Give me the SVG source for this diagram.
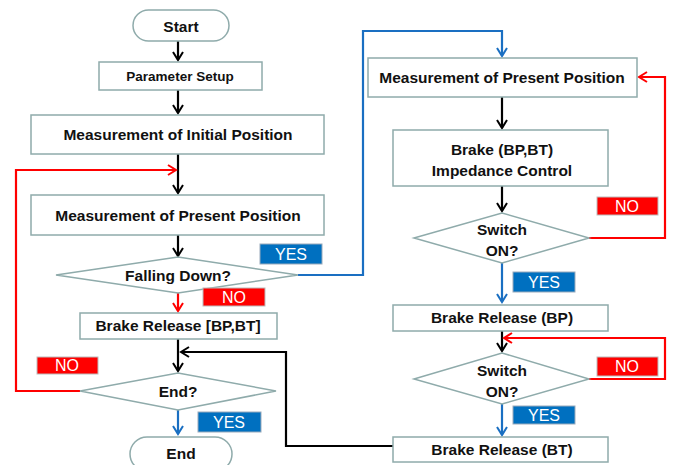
<svg xmlns="http://www.w3.org/2000/svg" width="677" height="465" viewBox="0 0 677 465">
<defs>
<style>
.n{fill:#fff;stroke:#8fabab;stroke-width:1.5}
.t{font-family:"Liberation Sans",Arial,sans-serif;font-weight:bold;font-size:15.5px;fill:#111;text-anchor:middle}
.s{font-size:13.5px}
.lb{font-family:"Liberation Sans",Arial,sans-serif;font-size:16px;fill:#fff;text-anchor:middle}
.yes{fill:#0070c0;stroke:#9ab;stroke-width:1}
.no{fill:#ff0000;stroke:#bbb;stroke-width:1}
.k{fill:none;stroke:#000;stroke-width:2.2}
.b{fill:none;stroke:#1a6fc2;stroke-width:2.2}
.r{fill:none;stroke:#ff0000;stroke-width:2.2}
</style>
<marker id="ak" viewBox="0 0 12 12" refX="10" refY="6" markerWidth="12" markerHeight="12" markerUnits="userSpaceOnUse" orient="auto"><path d="M2,1 L10,6 L2,11" fill="none" stroke="#000" stroke-width="2"/></marker>
<marker id="ab" viewBox="0 0 12 12" refX="10" refY="6" markerWidth="12" markerHeight="12" markerUnits="userSpaceOnUse" orient="auto"><path d="M2,1 L10,6 L2,11" fill="none" stroke="#1a6fc2" stroke-width="2"/></marker>
<marker id="ar" viewBox="0 0 12 12" refX="10" refY="6" markerWidth="12" markerHeight="12" markerUnits="userSpaceOnUse" orient="auto"><path d="M2,1 L10,6 L2,11" fill="none" stroke="#ff0000" stroke-width="2"/></marker>
</defs>
<rect width="677" height="465" fill="#fff"/>
<g id="connectors">
<path class="k" d="M178,41 V60" marker-end="url(#ak)"/>
<path class="k" d="M178,90 V113" marker-end="url(#ak)"/>
<path class="k" d="M178,154 V193" marker-end="url(#ak)"/>
<path class="r" d="M80,391 H16 V170 H176" marker-end="url(#ar)"/>
<path class="k" d="M178,235 V256" marker-end="url(#ak)"/>
<path class="b" d="M298,275 H363 V31 H502 V56" marker-end="url(#ab)"/>
<path class="r" d="M178,292 V311" marker-end="url(#ar)"/>
<path class="k" d="M178,339 V371" marker-end="url(#ak)"/>
<path class="k" d="M393,446 H286 V352 H181" marker-end="url(#ak)"/>
<path class="b" d="M178,410 V434" marker-end="url(#ab)"/>
<path class="k" d="M502,97 V128" marker-end="url(#ak)"/>
<path class="k" d="M502,186 V211" marker-end="url(#ak)"/>
<path class="r" d="M589,238 H665 V77 H639" marker-end="url(#ar)"/>
<path class="b" d="M502,263 V302" marker-end="url(#ab)"/>
<path class="k" d="M502,331 V351" marker-end="url(#ak)"/>
<path class="r" d="M589,379 H665 V338 H504" marker-end="url(#ar)"/>
<path class="b" d="M502,404 V435" marker-end="url(#ab)"/>
</g>
<g id="start"><rect class="n" x="133" y="10" width="96" height="31" rx="15.5"/><text class="t" x="181" y="32">Start</text></g>
<g id="param"><rect class="n" x="99" y="62" width="163" height="28"/><text class="t s" x="180" y="81">Parameter Setup</text></g>
<g id="initpos"><rect class="n" x="31" y="115" width="293" height="39"/><text class="t" x="178" y="140">Measurement of Initial Position</text></g>
<g id="prespos1"><rect class="n" x="31" y="195" width="293" height="40"/><text class="t" x="178" y="221">Measurement of Present Position</text></g>
<g id="falling"><path class="n" d="M56,275 L178,257 L298,275 L178,293 Z"/><text class="t" x="178" y="281">Falling Down?</text></g>
<g id="yes1"><rect class="yes" x="260" y="244" width="62" height="20"/><text class="lb" x="291" y="260">YES</text></g>
<g id="no1"><rect class="no" x="203" y="288" width="62" height="18"/><text class="lb" x="234" y="303">NO</text></g>
<g id="release1"><rect class="n" x="80" y="313" width="197" height="26"/><text class="t" x="178" y="331">Brake Release [BP,BT]</text></g>
<g id="no2"><rect class="no" x="37" y="357" width="61" height="17"/><text class="lb" x="67" y="371">NO</text></g>
<g id="endq"><path class="n" d="M80,391 L178,373 L276,391 L178,410 Z"/><text class="t" x="178" y="397">End?</text></g>
<g id="yes2"><rect class="yes" x="198" y="412" width="63" height="20"/><text class="lb" x="229" y="428">YES</text></g>
<g id="end"><rect class="n" x="130" y="437" width="102" height="34" rx="17"/><text class="t" x="181" y="459">End</text></g>
<g id="prespos2"><rect class="n" x="368" y="58" width="269" height="39"/><text class="t" x="502" y="83">Measurement of Present Position</text></g>
<g id="impedance"><rect class="n" x="393" y="130" width="215" height="56"/><text class="t" x="502" y="155">Brake (BP,BT)</text><text class="t" x="502" y="176">Impedance Control</text></g>
<g id="no3"><rect class="no" x="597" y="197" width="61" height="18"/><text class="lb" x="627" y="212">NO</text></g>
<g id="switch1"><path class="n" d="M414,238 L502,213 L589,238 L502,263 Z"/><text class="t" x="502" y="235">Switch</text><text class="t" x="502" y="256">ON?</text></g>
<g id="yes3"><rect class="yes" x="513" y="272" width="62" height="20"/><text class="lb" x="544" y="288">YES</text></g>
<g id="releasebp"><rect class="n" x="393" y="305" width="215" height="26"/><text class="t" x="502" y="323">Brake Release (BP)</text></g>
<g id="no4"><rect class="no" x="597" y="357" width="61" height="19"/><text class="lb" x="627" y="372">NO</text></g>
<g id="switch2"><path class="n" d="M414,379 L502,353 L589,379 L502,404 Z"/><text class="t" x="502" y="376">Switch</text><text class="t" x="502" y="397">ON?</text></g>
<g id="yes4"><rect class="yes" x="513" y="406" width="62" height="18"/><text class="lb" x="544" y="421">YES</text></g>
<g id="releasebt"><rect class="n" x="393" y="437" width="215" height="25"/><text class="t" x="502" y="455">Brake Release (BT)</text></g>
</svg>
